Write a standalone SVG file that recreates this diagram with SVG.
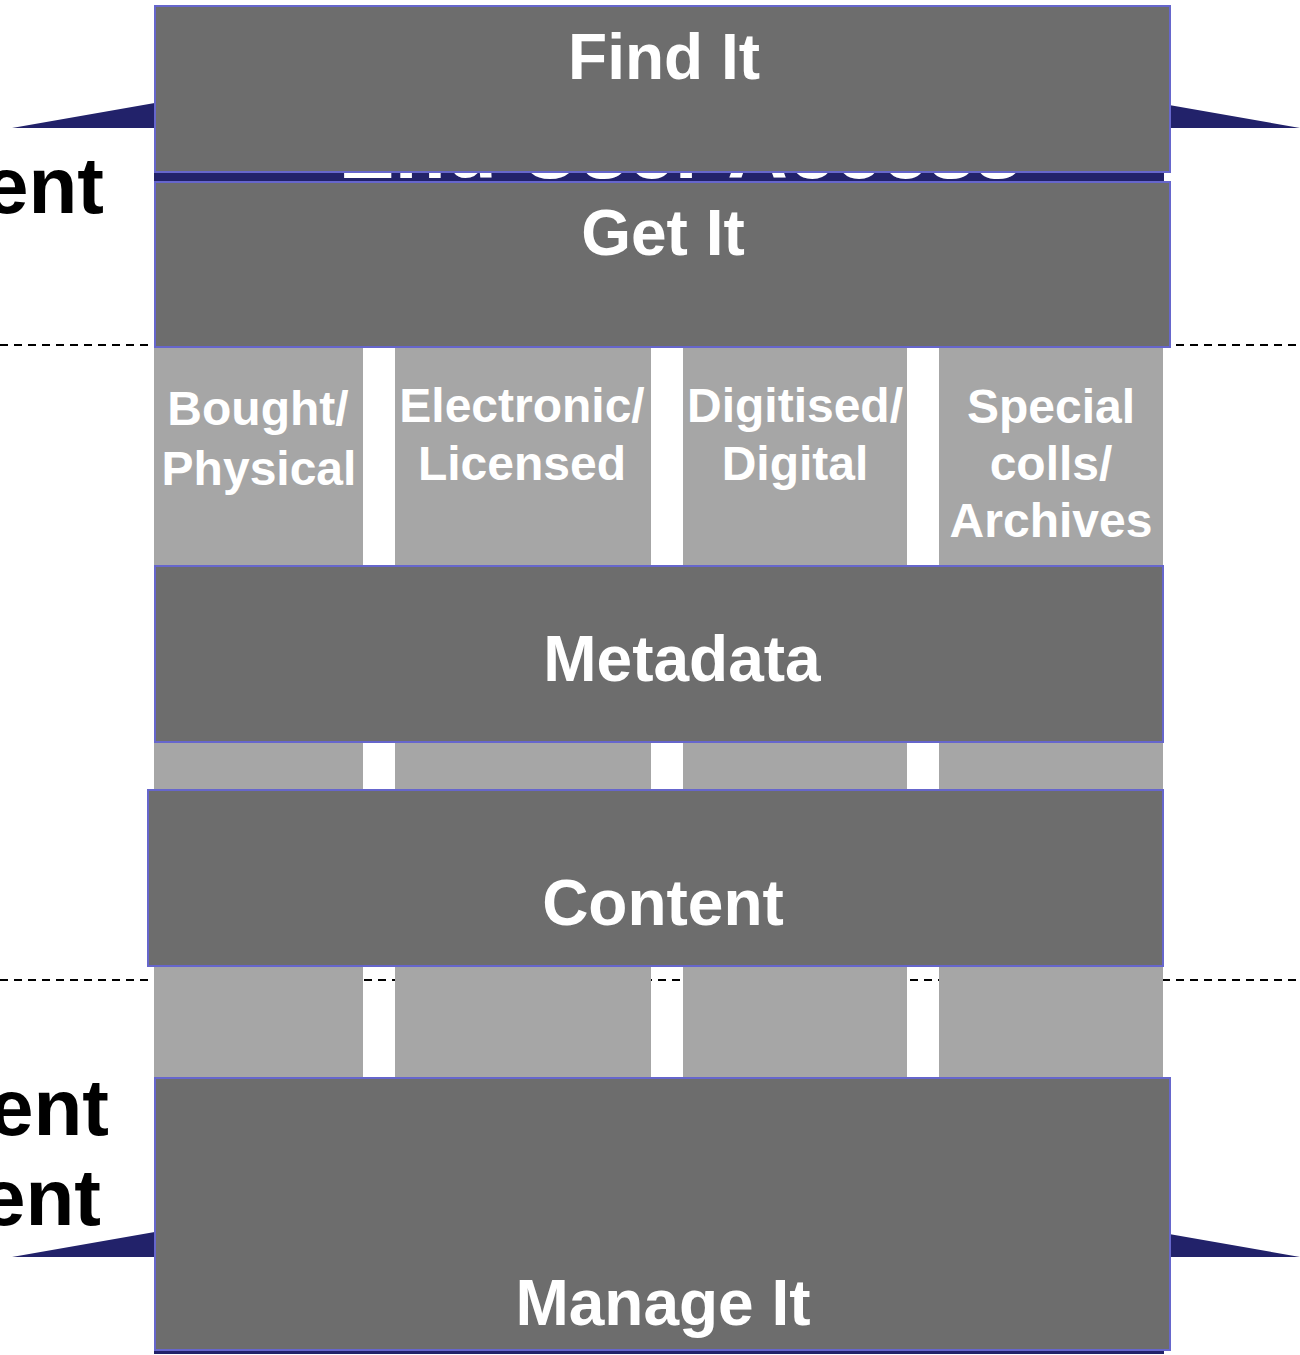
<svg xmlns="http://www.w3.org/2000/svg" width="1300" height="1355" viewBox="0 0 1300 1355">
  <style>
    .box { fill: #6d6d6d; stroke: #6666cc; stroke-width: 2; }
    .col { fill: #a6a6a6; }
    .navy { fill: #22226a; }
    .big { font-family: "Liberation Sans", Arial, sans-serif; font-weight: bold; font-size: 64px; fill: #ffffff; text-anchor: middle; }
    .small { font-family: "Liberation Sans", Arial, sans-serif; font-weight: bold; font-size: 48px; fill: #ffffff; text-anchor: middle; }
    .side { font-family: "Liberation Sans", Arial, sans-serif; font-weight: bold; font-size: 80px; fill: #000000; text-anchor: end; }
    .dash { stroke: #000000; stroke-width: 2; stroke-dasharray: 8 6; fill: none; }
  </style>
  <rect width="1300" height="1355" fill="#ffffff"/>

  <g id="dividers">
    <line class="dash" x1="0" y1="345" x2="1300" y2="345"/>
    <line class="dash" x1="0" y1="980" x2="1300" y2="980"/>
  </g>

  <g id="end-user-access">
    <polygon class="navy" points="12,128 656,15 1300,128 1164,128 1164,182 154,182 154,128"/>
    <text x="680" y="178" font-family="Liberation Sans, Arial, sans-serif" font-weight="bold" font-size="84" fill="#ffffff" text-anchor="middle">End User Access</text>
  </g>

  <g id="back-office">
    <polygon class="navy" points="12,1257 656,1144 1300,1257 1164,1257 1164,1354 154,1354 154,1257"/>
  </g>

  <g id="columns">
    <g id="col-bought">
      <rect class="col" x="154" y="347" width="209" height="731"/>
      <text class="small" x="258" y="425">Bought/</text>
      <text class="small" x="259" y="485">Physical</text>
    </g>
    <g id="col-electronic">
      <rect class="col" x="395" y="347" width="256" height="731"/>
      <text class="small" x="522" y="422">Electronic/</text>
      <text class="small" x="522" y="480">Licensed</text>
    </g>
    <g id="col-digitised">
      <rect class="col" x="683" y="347" width="224" height="731"/>
      <text class="small" x="795" y="422">Digitised/</text>
      <text class="small" x="795" y="480">Digital</text>
    </g>
    <g id="col-special">
      <rect class="col" x="939" y="347" width="224" height="731"/>
      <text class="small" x="1051" y="423">Special</text>
      <text class="small" x="1051" y="480">colls/</text>
      <text class="small" x="1051" y="537">Archives</text>
    </g>
  </g>

  <g id="find-it">
    <rect class="box" x="155" y="6" width="1015" height="166"/>
    <text class="big" x="664" y="79">Find It</text>
  </g>
  <g id="get-it">
    <rect class="box" x="155" y="182" width="1015" height="165"/>
    <text class="big" x="663" y="255">Get It</text>
  </g>
  <g id="metadata">
    <rect class="box" x="155" y="566" width="1008" height="176"/>
    <text class="big" x="682" y="681">Metadata</text>
  </g>
  <g id="content">
    <rect class="box" x="148" y="790" width="1015" height="176"/>
    <text class="big" x="663" y="925">Content</text>
  </g>
  <g id="manage-it">
    <rect class="box" x="155" y="1078" width="1015" height="272"/>
    <text class="big" x="663" y="1325">Manage It</text>
  </g>

  <g id="side-labels">
    <text class="side" x="104" y="213">ent</text>
    <text class="side" x="109" y="1135">ent</text>
    <text class="side" x="101" y="1225">ent</text>
  </g>
</svg>
